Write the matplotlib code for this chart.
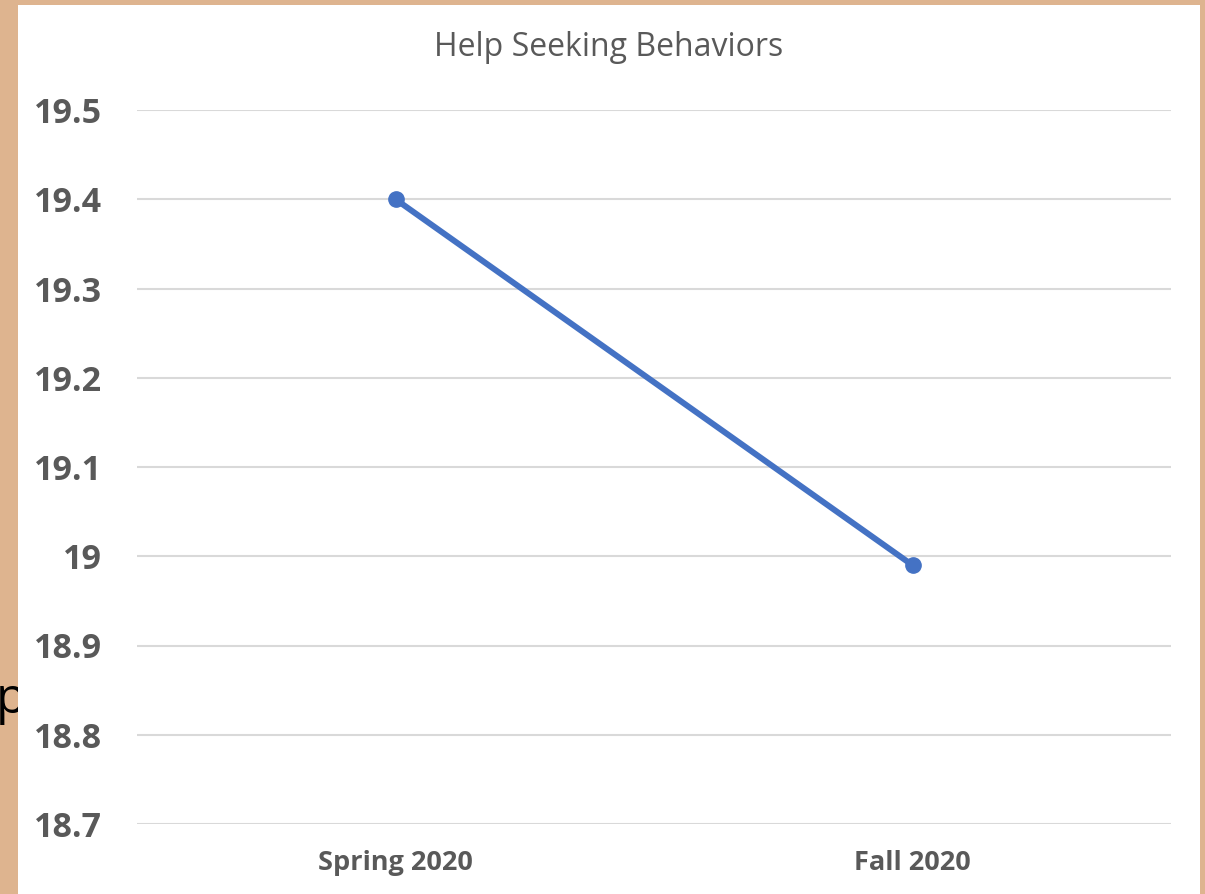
import numpy as np
import matplotlib
matplotlib.use("Agg")
import matplotlib.pyplot as plt
from matplotlib.patches import Rectangle

# data
terms = ["Spring 2020", "Fall 2020"]
scores = [19.40, 18.99]
y_ticks = [18.7, 18.8, 18.9, 19.0, 19.1, 19.2, 19.3, 19.4, 19.5]
y_tick_labels = ["18.7", "18.8", "18.9", "19", "19.1", "19.2", "19.3", "19.4", "19.5"]

W, H = 1205, 894
plt.rcParams['font.family'] = ['Open Sans', 'DejaVu Sans']

fig = plt.figure(figsize=(W / 100, H / 100), dpi=100)
fig.patch.set_facecolor('#DEB48F')

# stray letter from the slide behind the chart (mostly hidden by the chart area)
fig.text(-4 / W, 1 - 713 / H, "p", fontsize=36, color='black', ha='left', va='baseline',
         zorder=0.1)

# white chart area
fig.add_artist(Rectangle((18 / W, 0), (1200 - 18) / W, (H - 5) / H,
                         transform=fig.transFigure, facecolor='white',
                         edgecolor='none', zorder=0.2))

ax = fig.add_axes([137 / W, 1 - 824 / H, (1171 - 137) / W, (824 - 110) / H])
ax.set_facecolor('none')
ax.set_zorder(2)

x = np.arange(len(terms))
ax.plot(x, scores, color='#4472C4', lw=4.3, marker='o', ms=11, solid_capstyle='round', zorder=3)

ax.set_xlim(-0.5, len(terms) - 0.5)
ax.set_ylim(18.7, 19.5)
ax.set_yticks(y_ticks)
ax.set_yticklabels(y_tick_labels)
ax.set_xticks(x)
ax.set_xticklabels(terms)

ax.grid(axis='y', color='#D9D9D9', lw=1.5)
ax.set_axisbelow(True)
for s in ax.spines.values():
    s.set_visible(False)

ax.tick_params(axis='both', length=0, colors='#595959')
ax.tick_params(axis='y', pad=25, labelsize=24.5)
ax.tick_params(axis='x', pad=19, labelsize=19.5)
for t in ax.get_xticklabels() + ax.get_yticklabels():
    t.set_fontweight('bold')

fig.text(609 / W, 1 - 47 / H, "Help Seeking Behaviors", fontsize=23, color='#595959',
         ha='center', va='center', zorder=3)

fig.savefig("out.png", dpi=100, facecolor=fig.get_facecolor())
